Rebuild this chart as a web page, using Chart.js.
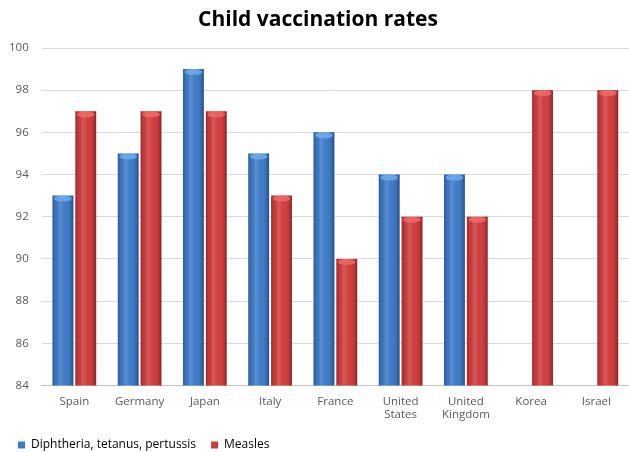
<!DOCTYPE html>
<html><head><meta charset="utf-8">
<script src="https://cdn.jsdelivr.net/npm/chart.js@4/dist/chart.umd.min.js"></script>
<style>html,body{margin:0;padding:0;background:#fff}#wrap{width:629px;height:452px}</style>
</head><body><div id="wrap"><canvas id="c" width="629" height="452"></canvas></div>
<script>
const categories = ['Spain','Germany','Japan','Italy','France',['United','States'],['United','Kingdom'],'Korea','Israel'];
const dtpValues = [93,95,99,95,96,94,94,null,null];
const measlesValues = [97,97,97,93,90,92,92,98,98];
const yTicks = [84,86,88,90,92,94,96,98,100];

const cylinder = {
  id:'cylinder',
  afterLayout(chart){
    if(chart.legend){ chart.legend.left += 7; }
    if(chart.titleBlock){ chart.titleBlock.left += 11; }
  },
  afterDatasetsDraw(chart){
    const ctx = chart.ctx;
    const area = chart.chartArea;
    chart.data.datasets.forEach((ds,i)=>{
      const meta = chart.getDatasetMeta(i);
      meta.data.forEach((el,j)=>{
        if(ds.data[j]==null || isNaN(el.y)) return;
        const l = el.x - el.width/2, r = el.x + el.width/2, t = el.y, b = Math.min(el.base, area.bottom);
        const g = ctx.createLinearGradient(l,0,r,0);
        g.addColorStop(0,'rgba(0,0,0,0.28)');
        g.addColorStop(0.12,'rgba(0,0,0,0.05)');
        g.addColorStop(0.35,'rgba(255,255,255,0.16)');
        g.addColorStop(0.6,'rgba(255,255,255,0.02)');
        g.addColorStop(0.88,'rgba(0,0,0,0.12)');
        g.addColorStop(1,'rgba(0,0,0,0.35)');
        ctx.save();
        ctx.fillStyle = g;
        ctx.fillRect(l,t,r-l,b-t);
        ctx.beginPath();
        ctx.ellipse(el.x, t+3, (r-l)/2-1.5, 3, 0, 0, Math.PI*2);
        ctx.fillStyle = ds.capColor;
        ctx.fill();
        ctx.restore();
      });
    });
  }
};

new Chart(document.getElementById('c'),{
  type:'bar',
  data:{
    labels:categories,
    datasets:[
      {label:'Diphtheria, tetanus, pertussis',data:dtpValues,backgroundColor:'#3b78c6',borderWidth:0,capColor:'rgba(110,170,235,0.85)',categoryPercentage:0.7,barPercentage:0.91},
      {label:'Measles',data:measlesValues,backgroundColor:'#cf3a3a',borderWidth:0,capColor:'rgba(238,105,105,0.85)',categoryPercentage:0.7,barPercentage:0.91}
    ]
  },
  options:{
    responsive:false,animation:false,
    layout:{padding:{left:-4,right:0,top:0,bottom:-9}},
    plugins:{
      title:{display:true,text:'Child vaccination rates',color:'#000',font:{family:'Open Sans',size:21,weight:'bold'},padding:{top:7,bottom:15.8}},
      legend:{position:'bottom',align:'start',labels:{boxWidth:7,boxHeight:7,color:'#404040',font:{family:'Open Sans',size:12},padding:15,
        generateLabels(chart){return chart.data.datasets.map((d,i)=>({text:d.label,fillStyle:d.backgroundColor,strokeStyle:d.backgroundColor,lineWidth:0,datasetIndex:i}));}}},
      tooltip:{enabled:false}
    },
    scales:{
      x:{grid:{display:false},border:{color:'#bfbfbf'},afterFit(s){s.height+=1;},ticks:{color:'#595959',font:{family:'Open Sans',size:11.5},maxRotation:0,autoSkip:false,padding:1}},
      y:{min:84,max:100,afterBuildTicks(ax){ax.ticks=yTicks.map(v=>({value:v}));},grid:{color:'#d9d9d9',drawTicks:false},border:{display:false},ticks:{color:'#595959',font:{family:'Open Sans',size:11.5},padding:13}}
    }
  },
  plugins:[cylinder]
});
</script></body></html>
